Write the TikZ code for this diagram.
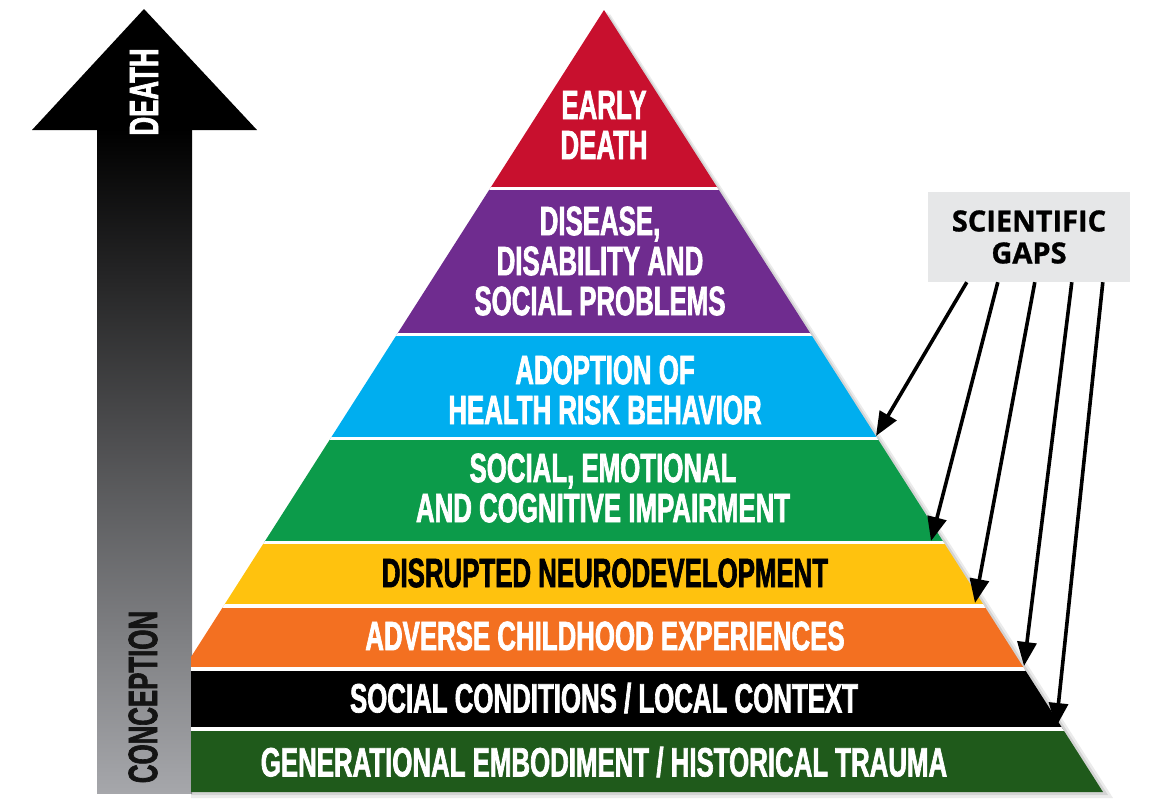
\documentclass[tikz,border=0pt]{standalone}
\usepackage{fontspec}
\setmainfont{Liberation Sans}
\newfontfamily\condfont{Liberation Sans}[FakeStretch=0.63,FakeBold=1.6]
\newfontfamily\gapfont{Open Sans}[FakeBold=1]
\usetikzlibrary{arrows.meta}

\definecolor{lvred}{HTML}{C8102E}
\definecolor{lvpurple}{HTML}{6F2C8F}
\definecolor{lvblue}{HTML}{00AEEF}
\definecolor{lvgreen}{HTML}{0C9B4A}
\definecolor{lvyellow}{HTML}{FFC20E}
\definecolor{lvorange}{HTML}{F37021}
\definecolor{lvdark}{HTML}{1F5A1B}
\definecolor{arrgray}{HTML}{A6A7AB}
\definecolor{gapgray}{HTML}{E6E7E8}

\tikzset{
  lvl/.style={font={\condfont\bfseries\fontsize{41}{40}\selectfont}, text=white, align=center, inner sep=0pt},
  gap/.style={line width=3.6pt, -{Triangle[length=24pt,width=19pt]}},
}

\begin{document}
\begin{tikzpicture}[x=1pt,y=-1pt]
\useasboundingbox (0,0) rectangle (1167,807);

% the arrow from conception to death
\shade[top color=black, bottom color=arrgray] (97,129) rectangle (192,793);
\fill[black] (32,130) -- (144,9) -- (257,130) -- cycle;
\node[lvl, rotate=90] (death) at (144,92) {DEATH};
\node[lvl, rotate=90, text=black!92] (concep) at (143,697) {CONCEPTION};

% shadow of the pyramid
\fill[black, opacity=0.08] (610,14) -- (1113,798) -- (191,798) -- (191,660) -- cycle;
\fill[black, opacity=0.10] (607,12) -- (1108,795) -- (191,795) -- (191,658) -- cycle;

% the pyramid
\begin{scope}
\clip (604,10) -- (1103,792) -- (191,792) -- (191,657) -- cycle;
\fill[lvred] (150,0) rectangle (1120,188.5);
\fill[lvpurple] (150,188.5) rectangle (1120,334.5);
\fill[lvblue] (150,334.5) rectangle (1120,438.5);
\fill[lvgreen] (150,438.5) rectangle (1120,542.5);
\fill[lvyellow] (150,542.5) rectangle (1120,606);
\fill[lvorange] (150,606) rectangle (1120,669);
\fill[black] (150,669) rectangle (1120,729);
\fill[lvdark] (150,729) rectangle (1120,800);
\foreach \y in {188.5,334.5,438.5,542.5,606,669,729}
  \draw[white, line width=3.5pt] (150,\y) -- (1120,\y);
\end{scope}

\node[lvl] (early) at (604,125) {EARLY\\DEATH};
\node[lvl] (disease) at (600,261) {DISEASE,\\DISABILITY AND\\SOCIAL PROBLEMS};
\node[lvl] (adopt) at (605,390) {ADOPTION OF\\HEALTH RISK BEHAVIOR};
\node[lvl] (impair) at (603,488) {SOCIAL, EMOTIONAL\\AND COGNITIVE IMPAIRMENT};
\node[lvl, text=black] (neuro) at (605,573) {DISRUPTED NEURODEVELOPMENT};
\node[lvl] (aces) at (605,636) {ADVERSE CHILDHOOD EXPERIENCES};
\node[lvl] (social) at (604,698) {SOCIAL CONDITIONS / LOCAL CONTEXT};
\node[lvl] (trauma) at (604,762) {GENERATIONAL EMBODIMENT / HISTORICAL TRAUMA};

% scientific gaps
\node[fill=gapgray, minimum width=202pt, minimum height=90pt, inner sep=0pt, align=center,
  font={\gapfont\bfseries\fontsize{29}{32}\selectfont}] (gaps) at (1029,237) {SCIENTIFIC\\GAPS};
\coordinate (t1) at (876,436);
\coordinate (t2) at (931,541);
\coordinate (t3) at (975,603);
\coordinate (t4) at (1024,666);
\coordinate (t5) at (1056,727);
\foreach \dx/\t in {39/t1,70/t2,107/t3,144/t4,175/t5}
  \draw[gap] ([xshift=\dx pt]gaps.south west) -- (\t);
\end{tikzpicture}
\end{document}
